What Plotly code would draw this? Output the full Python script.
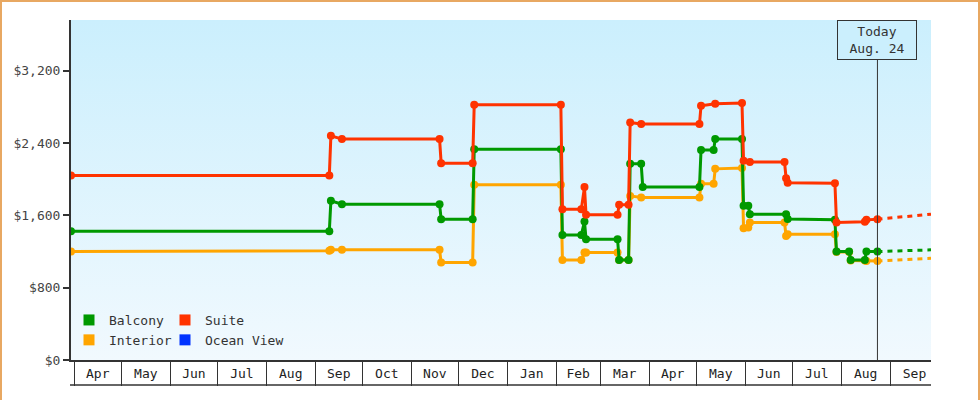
import base64
import plotly.graph_objects as go

# ---------------- data ----------------
balcony_dates = ["2018-03-30", "2018-09-10", "2018-09-11", "2018-09-18", "2018-11-19", "2018-11-20",
                 "2018-12-10", "2018-12-11", "2019-02-04", "2019-02-05", "2019-02-17", "2019-02-19",
                 "2019-02-20", "2019-03-12", "2019-03-13", "2019-03-19", "2019-03-20", "2019-03-27",
                 "2019-03-28", "2019-05-03", "2019-05-04", "2019-05-12", "2019-05-13", "2019-05-30",
                 "2019-05-31", "2019-06-03", "2019-06-04", "2019-06-27", "2019-06-28", "2019-07-28",
                 "2019-07-29", "2019-08-06", "2019-08-07", "2019-08-16", "2019-08-17", "2019-08-24"]
balcony_prices = [1424, 1424, 1760, 1723, 1723, 1557, 1557, 2332, 2332, 1383, 1383, 1531,
                  1336, 1336, 1107, 1107, 2170, 2170, 1912, 1912, 2321, 2321, 2443, 2443,
                  1705, 1705, 1613, 1613, 1560, 1550, 1199, 1199, 1107, 1107, 1199, 1199]

suite_dates = ["2018-03-30", "2018-09-10", "2018-09-11", "2018-09-18", "2018-11-19", "2018-11-20",
               "2018-12-10", "2018-12-11", "2019-02-04", "2019-02-05", "2019-02-17", "2019-02-19",
               "2019-02-20", "2019-03-12", "2019-03-13", "2019-03-19", "2019-03-20", "2019-03-27",
               "2019-05-03", "2019-05-04", "2019-05-13", "2019-05-30", "2019-05-31", "2019-06-04",
               "2019-06-26", "2019-06-27", "2019-06-28", "2019-07-28", "2019-07-29", "2019-08-16",
               "2019-08-17", "2019-08-24"]
suite_prices = [2040, 2040, 2480, 2443, 2443, 2177, 2177, 2823, 2823, 1668, 1668, 1912,
                1605, 1605, 1716, 1716, 2627, 2609, 2609, 2812, 2834, 2842, 2203, 2189,
                2189, 2011, 1960, 1956, 1520, 1530, 1550, 1557]

interior_dates = ["2018-03-30", "2018-09-10", "2018-09-11", "2018-09-18", "2018-11-19", "2018-11-20",
                  "2018-12-10", "2018-12-11", "2019-02-04", "2019-02-05", "2019-02-17", "2019-02-19",
                  "2019-02-20", "2019-03-12", "2019-03-13", "2019-03-19", "2019-03-20", "2019-03-27",
                  "2019-05-03", "2019-05-04", "2019-05-12", "2019-05-13", "2019-05-30", "2019-05-31",
                  "2019-06-03", "2019-06-04", "2019-06-26", "2019-06-27", "2019-06-28", "2019-07-28",
                  "2019-07-29", "2019-08-06", "2019-08-07", "2019-08-16", "2019-08-17", "2019-08-24"]
interior_prices = [1199, 1207, 1218, 1218, 1218, 1077, 1077, 1937, 1937, 1107, 1107, 1188,
                   1188, 1188, 1107, 1107, 1815, 1797, 1797, 1948, 1948, 2114, 2122, 1458,
                   1465, 1520, 1520, 1370, 1391, 1391, 1195, 1195, 1100, 1100, 1096, 1096]

ocean_view_dates = []
ocean_view_prices = []

forecast_dates = ["2019-08-24", "2019-09-27"]
balcony_forecast = [1199, 1218]
suite_forecast = [1557, 1613]
interior_forecast = [1096, 1125]

today_date = "2019-08-24"
today_label = "Today<br>Aug. 24"
x_range = ["2018-03-30", "2019-09-27"]
y_range = [0, 3760]
y_ticks = [0, 800, 1600, 2400, 3200]
y_tick_labels = ["$0", "$800", "$1,600", "$2,400", "$3,200"]

# ---------------- style ----------------
W, H = 980, 400
ML, MR, MT, MB = 71, 49, 20, 40
PW, PH = W - ML - MR, H - MT - MB
FONT = "DejaVu Sans Mono"
INK = "#333333"
GREEN, RED, ORANGE, BLUE = "#009900", "#ff3300", "#ffa500", "#0033ff"
BG_TOP, BG_BOTTOM = "#cbeffd", "#f1f9fe"
BORDER = "#e8a862"
BOX_H = 25  # month box height below axis

fig = go.Figure()


def add_series(dates, prices, fdates, fprices, color):
    fig.add_trace(go.Scatter(x=dates, y=prices, mode="lines+markers",
                             line=dict(color=color, width=3),
                             marker=dict(color=color, size=8, symbol="circle"),
                             showlegend=False, hoverinfo="skip"))
    if fdates:
        fig.add_trace(go.Scatter(x=fdates, y=fprices, mode="lines",
                                 line=dict(color=color, width=3, dash="5px,5px"),
                                 showlegend=False, hoverinfo="skip"))


add_series(interior_dates, interior_prices, forecast_dates, interior_forecast, ORANGE)
add_series(balcony_dates, balcony_prices, forecast_dates, balcony_forecast, GREEN)
add_series(suite_dates, suite_prices, forecast_dates, suite_forecast, RED)
add_series(ocean_view_dates, ocean_view_prices, [], [], BLUE)

# legend entries (square swatches)
for name, color, leg in [("Balcony", GREEN, "legend"), ("Interior", ORANGE, "legend"),
                         ("Suite", RED, "legend2"), ("Ocean View", BLUE, "legend2")]:
    fig.add_trace(go.Scatter(x=[None], y=[None], mode="markers", name=name,
                             marker=dict(color=color, size=11, symbol="square"),
                             legend=leg, showlegend=True))

# gradient background image
svg = ('<svg xmlns="http://www.w3.org/2000/svg" width="10" height="100" preserveAspectRatio="none">'
       '<defs><linearGradient id="g" x1="0" y1="0" x2="0" y2="1">'
       f'<stop offset="0" stop-color="{BG_TOP}"/><stop offset="1" stop-color="{BG_BOTTOM}"/>'
       '</linearGradient></defs><rect width="10" height="100" fill="url(#g)"/></svg>')
src = "data:image/svg+xml;base64," + base64.b64encode(svg.encode()).decode()

legend_common = dict(font=dict(family=FONT, size=13, color=INK), bgcolor="rgba(0,0,0,0)",
                     borderwidth=0, orientation="v", xanchor="left", yanchor="top",
                     itemsizing="trace", tracegroupgap=0)

fig.update_layout(
    width=W, height=H,
    margin=dict(l=ML, r=MR, t=MT, b=MB, pad=0),
    paper_bgcolor="white", plot_bgcolor="rgba(0,0,0,0)",
    font=dict(family=FONT, size=13, color=INK),
    images=[dict(source=src, xref="paper", yref="paper", x=0, y=1, sizex=1, sizey=1,
                 sizing="stretch", layer="below", xanchor="left", yanchor="top")],
    xaxis=dict(type="date", range=x_range, showgrid=False, zeroline=False,
               showline=True, linewidth=2, linecolor=INK,
               ticks="outside", ticklen=BOX_H - 1, tickwidth=1, tickcolor=INK,
               dtick="M1", tick0="2018-04-01", tickformat="%b", ticklabelmode="period",
               ticklabelstandoff=-BOX_H + 1,
               tickfont=dict(family=FONT, size=13, color="#222222")),
    yaxis=dict(range=y_range, tickmode="array", tickvals=y_ticks, ticktext=y_tick_labels,
               showgrid=False, zeroline=False, showline=True, linewidth=2, linecolor=INK,
               ticks="outside", ticklen=6, tickwidth=2, tickcolor=INK,
               tickfont=dict(family=FONT, size=13, color="#444444")),
    legend=dict(x=(69 - ML) / PW, y=(360 - 305) / PH, **legend_common),
    legend2=dict(x=(165 - ML) / PW, y=(360 - 305) / PH, **legend_common),
    showlegend=True,
    annotations=[dict(x=today_date, xref="x", y=1, yref="paper", xanchor="center", yanchor="top",
                      text=today_label, showarrow=False, align="center",
                      font=dict(family=FONT, size=13, color=INK),
                      bgcolor=BG_TOP, bordercolor=INK, borderwidth=1, borderpad=1,
                      width=76, height=36)],
    shapes=[
        dict(type="line", xref="x", yref="paper", x0=today_date, x1=today_date, y0=0, y1=1,
             line=dict(color=INK, width=1), layer="above"),
        dict(type="line", xref="paper", yref="paper", x0=-1 / PW, x1=1,
             y0=-BOX_H / PH, y1=-BOX_H / PH, line=dict(color=INK, width=1.5)),
        dict(type="rect", xref="paper", yref="paper",
             x0=(1 - ML) / PW, x1=(W - 1 - ML) / PW,
             y0=(MB - (H - 1)) / PH, y1=(H - 1 - MB) / PH,
             line=dict(color=BORDER, width=2), fillcolor="rgba(0,0,0,0)"),
    ],
)

fig.write_html("out.html", config={"displayModeBar": False},
               post_script="document.body.style.margin='0px';")
